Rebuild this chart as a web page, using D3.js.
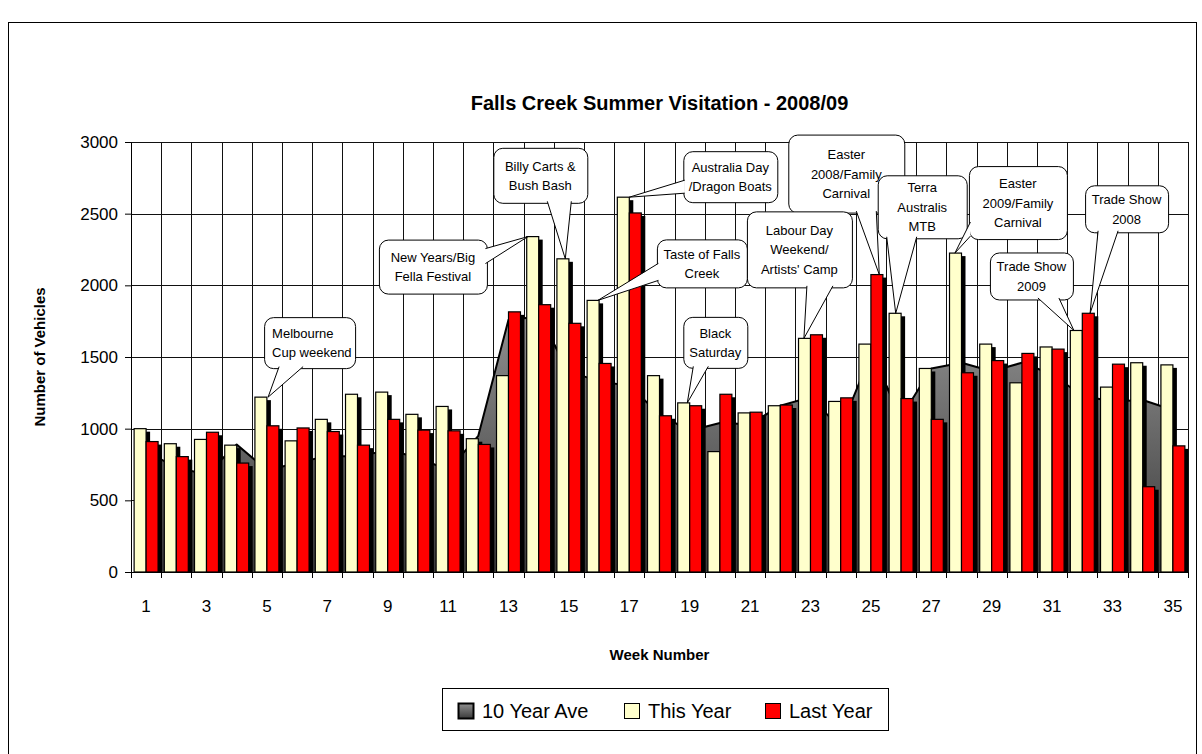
<!DOCTYPE html>
<html>
<head>
<meta charset="utf-8">
<script src="https://cdn.jsdelivr.net/npm/d3@7"></script>
<style>
  body { margin: 0; background: #fff; }
  text { font-family: "Liberation Sans", Arial, sans-serif; }
</style>
</head>
<body>
<svg id="chart" width="1202" height="754"></svg>
<script>
var weeks = d3.range(1, 36);
var tenYearAve = [840, 730, 680, 890, 710, 760, 810, 805, 850, 800, 710, 950, 1760, 1780, 1400, 1330, 1300, 1100, 985, 1040,
                  1030, 1160, 1220, 1000, 1520, 1080, 1420, 1460, 1400, 1460, 1380, 1230, 1190, 1200, 1130];
var thisYear = [1000, 895, 925, 885, 1220, 915, 1065, 1240, 1255, 1100, 1155, 930, 1370, 2340, 2185, 1895, 2615, 1370, 1180, 840,
                1110, 1160, 1630, 1190, 1590, 1805, 1420, 2225, 1590, 1320, 1570, 1685, 1290, 1460, 1445];
var lastYear = [910, 805, 975, 760, 1020, 1005, 980, 885, 1065, 990, 985, 890, 1815, 1865, 1735, 1455, 2505, 1090, 1160, 1240,
                1115, 1165, 1655, 1215, 2075, 1210, 1065, 1390, 1475, 1525, 1555, 1805, 1450, 595, 880];
var yTicks = [0, 500, 1000, 1500, 2000, 2500, 3000];
var xLabels = weeks.filter(function (w) { return w % 2 === 1; });
var barKeys = ["ty", "ly"];
var barColors = { ty: "#ffffcc", ly: "#ff0000" };
var legendItems = ["10 Year Ave", "This Year", "Last Year"];

// callouts: tip sits on a bar top, box placed relative to the tip
var callouts = [
    { lines: ["Melbourne", "Cup weekend"], week: 5, key: "ty", fx: 1.1, dx: -4, dy: -80, w: 91, h: 51, side: "bottom", b: [15, 39], align: "start" },
    { lines: ["New Years/Big", "Fella Festival"], week: 14, key: "ty", fx: 0.1, dx: -149, dy: 3, w: 108, h: 54, side: "right", b: [9, 24] },
    { lines: ["Billy Carts &", "Bush Bash"], week: 15, key: "ty", fx: 0.7, dx: -72, dy: -111, w: 94, h: 55, side: "bottom", b: [54, 78] },
    { lines: ["Australia Day", "/Dragon Boats"], week: 17, key: "ty", fx: 1.0, dx: 54, dy: -46, w: 94, h: 51, side: "left", b: [29, 42] },
    { lines: ["Taste of Falls", "Creek"], week: 16, key: "ty", fx: 0.9, dx: 59, dy: -61, w: 90, h: 48, side: "left", b: [24, 41] },
    { lines: ["Black", "Saturday"], week: 19, key: "ty", fx: 0.8, dx: -4, dy: -86, w: 64, h: 51, side: "bottom", b: [10, 25] },
    { lines: ["Easter", "2008/Family", "Carnival"], week: 25, key: "ly", fx: 0.7, dx: -91, dy: -140, w: 116, h: 78, side: "bottom", b: [68, 88] },
    { lines: ["Labour Day", "Weekend/", "Artists' Camp"], week: 23, key: "ty", fx: 0.45, dx: -57, dy: -127, w: 105, h: 76, side: "bottom", b: [60, 86] },
    { lines: ["Terra", "Australis", "MTB"], week: 26, key: "ty", fx: 0.55, dx: -18, dy: -138, w: 89, h: 63, side: "bottom", b: [9, 39] },
    { lines: ["Easter", "2009/Family", "Carnival"], week: 28, key: "ty", fx: 0.45, dx: 14, dy: -87, w: 98, h: 73, side: "left", b: [56, 70] },
    { lines: ["Trade Show", "2009"], week: 32, key: "ty", fx: 0.3, dx: -84, dy: -78, w: 83, h: 47, side: "bottom", b: [48, 69] },
    { lines: ["Trade Show", "2008"], week: 32, key: "ly", fx: 0.65, dx: -5, dy: -128, w: 83, h: 47, side: "bottom", b: [13, 33] }
];

var svgElem = d3.select("#chart");
var plot = { left: 131, right: 1188, top: 142, bottom: 572 };

var x0 = d3.scaleBand().domain(weeks).range([plot.left, plot.right]).padding(0);
var x1 = d3.scaleBand().domain(barKeys).range([0, x0.bandwidth()]).paddingInner(0).paddingOuter(0.26);
var y = d3.scaleLinear().domain([0, 3000]).range([plot.bottom, plot.top]);

var valuesFor = { ty: thisYear, ly: lastYear };

var defs = svgElem.append("defs");
var grad = defs.append("linearGradient").attr("id", "aveFill")
    .attr("gradientUnits", "userSpaceOnUse")
    .attr("x1", 0).attr("x2", 0).attr("y1", y(1800)).attr("y2", y(0));
grad.append("stop").attr("offset", 0).attr("stop-color", "#909090");
grad.append("stop").attr("offset", 1).attr("stop-color", "#3a3a3a");
var lgrad = defs.append("linearGradient").attr("id", "aveSwatch").attr("x1", 0).attr("x2", 0).attr("y1", 0).attr("y2", 1);
lgrad.append("stop").attr("offset", 0).attr("stop-color", "#909090");
lgrad.append("stop").attr("offset", 1).attr("stop-color", "#3a3a3a");
defs.append("clipPath").attr("id", "plotClip").append("rect")
    .attr("x", plot.left).attr("y", plot.top - 2)
    .attr("width", plot.right - plot.left).attr("height", plot.bottom - plot.top + 2);

// outer chart border
svgElem.append("rect")
    .attr("x", 8.5).attr("y", 22.5).attr("width", 1188).attr("height", 760)
    .attr("fill", "#fff").attr("stroke", "#000").attr("stroke-width", 1);

svgElem.append("text")
    .attr("x", (plot.left + plot.right) / 2).attr("y", 110)
    .attr("text-anchor", "middle").style("font-size", "20px").style("font-weight", "bold")
    .text("Falls Creek Summer Visitation - 2008/09");

// grid
var g = svgElem.append("g");
g.selectAll(".hgrid").data(yTicks.slice(1)).enter().append("line")
    .attr("x1", plot.left).attr("x2", plot.right)
    .attr("y1", function (d) { return Math.round(y(d)) + 0.5; })
    .attr("y2", function (d) { return Math.round(y(d)) + 0.5; })
    .attr("stroke", "#111").attr("stroke-width", 1);

var bounds = weeks.map(function (w) { return x0(w); }).concat([plot.right]);
g.selectAll(".vgrid").data(bounds.slice(1)).enter().append("line")
    .attr("x1", function (d) { return Math.round(d) + 0.5; })
    .attr("x2", function (d) { return Math.round(d) + 0.5; })
    .attr("y1", plot.top).attr("y2", plot.bottom)
    .attr("stroke", "#111").attr("stroke-width", 1);

// 10 year average area (with shadow)
var cx = function (i) { return x0(weeks[i]) + x0.bandwidth() / 2; };
var area = d3.area()
    .x(function (d, i) { return cx(i); })
    .y0(y(0))
    .y1(function (d) { return y(d); });
var topLine = d3.line()
    .x(function (d, i) { return cx(i); })
    .y(function (d) { return y(d); });

var pg = g.append("g").attr("clip-path", "url(#plotClip)");
pg.append("path").datum(tenYearAve)
    .attr("d", area).attr("transform", "translate(3,3)")
    .attr("fill", "#000");
pg.append("path").datum(tenYearAve)
    .attr("d", area).attr("fill", "url(#aveFill)");
pg.append("path").datum(tenYearAve)
    .attr("d", topLine).attr("fill", "none")
    .attr("stroke", "#000").attr("stroke-width", 2).attr("stroke-linejoin", "round");

// bars, series by series, each with a drop shadow
barKeys.forEach(function (key) {
    var vals = valuesFor[key];
    var bg = pg.append("g").attr("class", "bars-" + key);
    bg.selectAll(".shadow").data(vals).enter().append("rect")
        .attr("x", function (d, i) { return x0(weeks[i]) + x1(key) + 4; })
        .attr("y", function (d) { return y(d) + 3; })
        .attr("width", x1.bandwidth())
        .attr("height", function (d) { return y(0) - y(d) - 3; })
        .attr("fill", "#000");
    bg.selectAll(".bar").data(vals).enter().append("rect")
        .attr("x", function (d, i) { return x0(weeks[i]) + x1(key); })
        .attr("y", function (d) { return y(d); })
        .attr("width", x1.bandwidth())
        .attr("height", function (d) { return y(0) - y(d); })
        .attr("fill", barColors[key])
        .attr("stroke", "#000").attr("stroke-width", 1.2);
});

// axes
var yAxis = svgElem.append("g")
    .attr("transform", "translate(" + plot.left + ",0)")
    .call(d3.axisLeft(y).tickValues(yTicks).tickFormat(d3.format("d"))
        .tickSize(6).tickPadding(7).tickSizeOuter(0));
yAxis.selectAll("text").style("font-size", "17px").attr("fill", "#000");
yAxis.selectAll("line, path").attr("stroke", "#000");

var xAxis = svgElem.append("g");
xAxis.append("line")
    .attr("x1", plot.left).attr("x2", plot.right)
    .attr("y1", plot.bottom + 0.5).attr("y2", plot.bottom + 0.5)
    .attr("stroke", "#000");
xAxis.selectAll(".xtick").data(bounds).enter().append("line")
    .attr("x1", function (d) { return Math.round(d) + 0.5; })
    .attr("x2", function (d) { return Math.round(d) + 0.5; })
    .attr("y1", plot.bottom).attr("y2", plot.bottom + 6)
    .attr("stroke", "#000");
xAxis.selectAll(".xlabel").data(xLabels).enter().append("text")
    .attr("x", function (d) { return x0(d) + x0.bandwidth() / 2; })
    .attr("y", 612)
    .attr("text-anchor", "middle").style("font-size", "17px")
    .text(function (d) { return d; });

svgElem.append("text")
    .attr("x", (plot.left + plot.right) / 2).attr("y", 660)
    .attr("text-anchor", "middle").style("font-size", "15px").style("font-weight", "bold")
    .text("Week Number");
svgElem.append("text")
    .attr("transform", "translate(45," + (plot.top + plot.bottom) / 2 + ") rotate(-90)")
    .attr("text-anchor", "middle").style("font-size", "15px").style("font-weight", "bold")
    .text("Number of Vehicles");

// callouts
var cg = svgElem.append("g");
callouts.forEach(function (c) {
    var v = valuesFor[c.key][c.week - 1];
    var tx = x0(c.week) + x1(c.key) + c.fx * x1.bandwidth();
    var ty = y(v);
    var bx = tx + c.dx, by = ty + c.dy;
    var p1, p2;
    if (c.side === "bottom") { p1 = [bx + c.b[0], by + c.h - 1.5]; p2 = [bx + c.b[1], by + c.h - 1.5]; }
    else if (c.side === "left") { p1 = [bx + 1.5, by + c.b[0]]; p2 = [bx + 1.5, by + c.b[1]]; }
    else { p1 = [bx + c.w - 1.5, by + c.b[0]]; p2 = [bx + c.w - 1.5, by + c.b[1]]; }
    var one = cg.append("g");
    one.append("rect")
        .attr("x", bx + 0.5).attr("y", by + 0.5).attr("width", c.w).attr("height", c.h)
        .attr("rx", 9).attr("ry", 9)
        .attr("fill", "#fff").attr("stroke", "#000").attr("stroke-width", 1);
    one.append("path")
        .attr("d", "M" + p1 + "L" + [tx, ty] + "L" + p2)
        .attr("fill", "#fff").attr("stroke", "#000").attr("stroke-width", 1);
    var lh = 19.5;
    var startY = by + c.h / 2 - (c.lines.length - 1) * lh / 2 + 5;
    one.selectAll("text").data(c.lines).enter().append("text")
        .attr("x", c.align === "start" ? bx + 8 : bx + c.w / 2)
        .attr("y", function (d, i) { return startY + i * lh; })
        .attr("text-anchor", c.align === "start" ? "start" : "middle")
        .style("font-size", "13px")
        .text(function (d) { return d; });
});

// legend
var lg = svgElem.append("g");
lg.append("rect").attr("x", 442.5).attr("y", 688.5).attr("width", 446).attr("height", 42)
    .attr("fill", "#fff").attr("stroke", "#000");
var swatchX = [458, 624, 765];
var swatchFill = ["url(#aveSwatch)", barColors.ty, barColors.ly];
legendItems.forEach(function (name, i) {
    lg.append("rect").attr("x", swatchX[i] + 0.5).attr("y", 703.5).attr("width", 15).attr("height", 15)
        .attr("fill", swatchFill[i]).attr("stroke", "#000").attr("stroke-width", i === 0 ? 2 : 1);
    lg.append("text").attr("x", swatchX[i] + 24).attr("y", 718)
        .style("font-size", "20px").text(name);
});
</script>
</body>
</html>
